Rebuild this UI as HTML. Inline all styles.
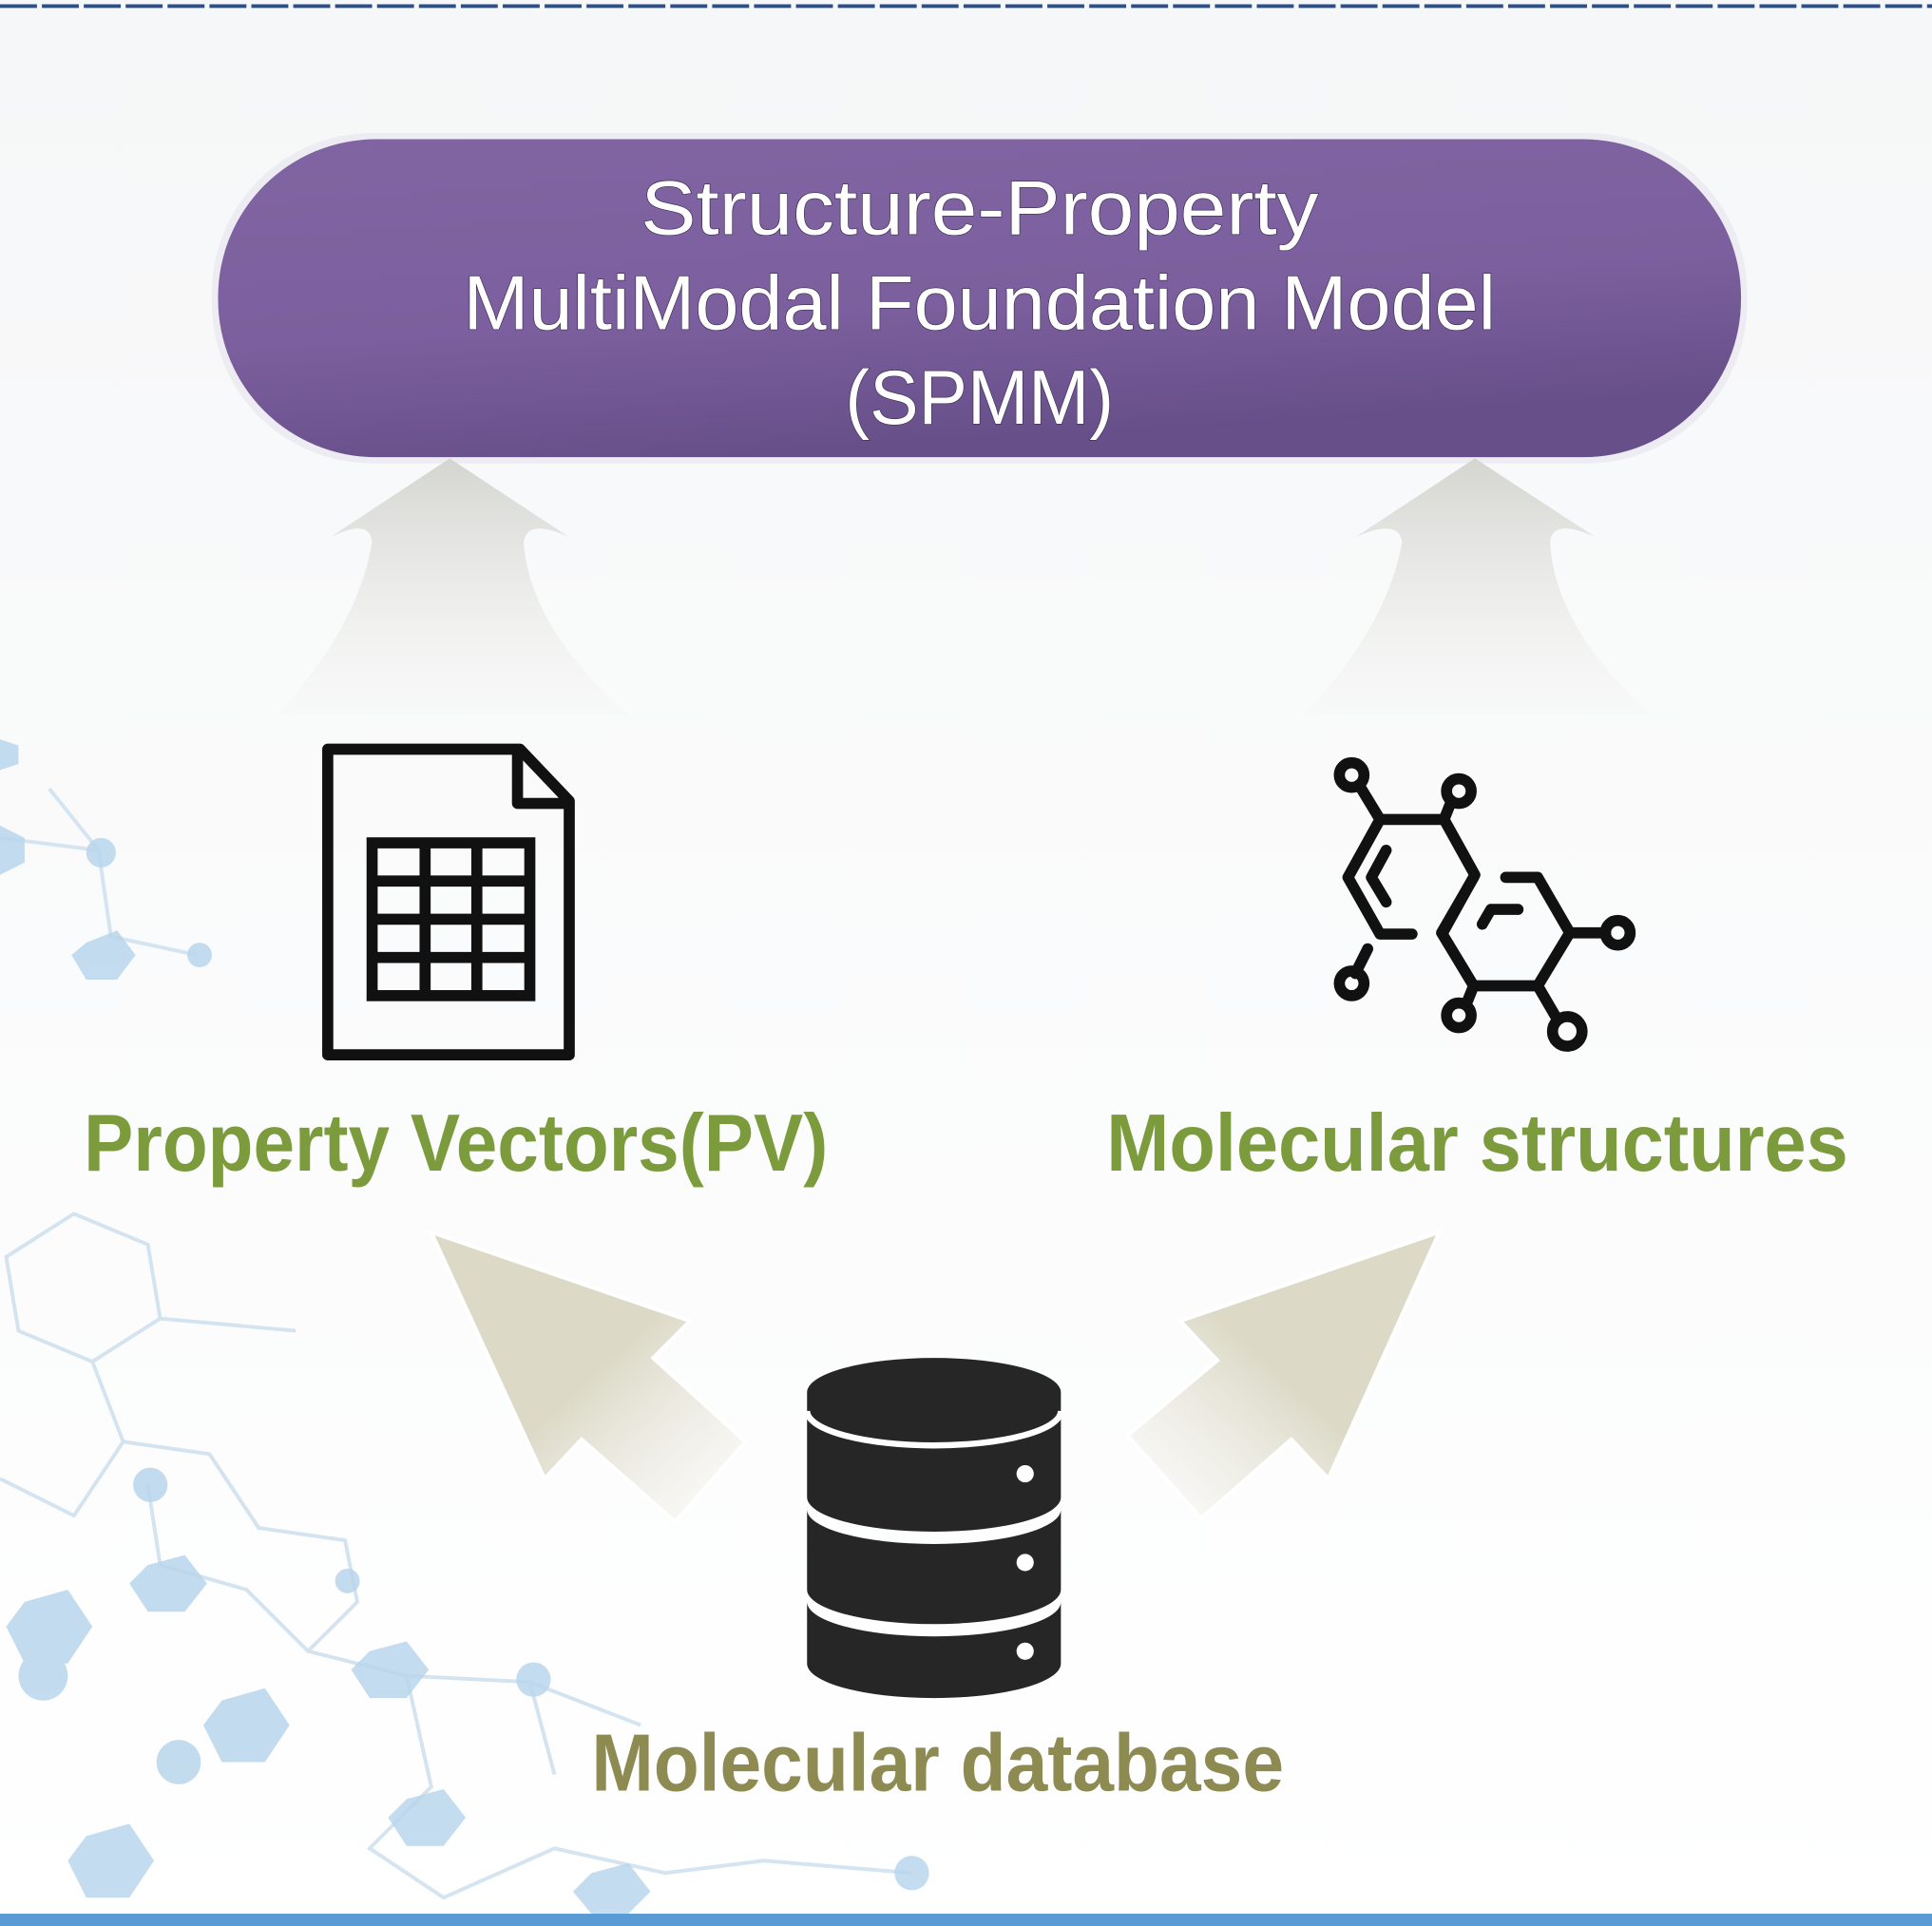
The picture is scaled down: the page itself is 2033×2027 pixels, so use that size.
<!DOCTYPE html>
<html><head><meta charset="utf-8"><style>
html,body{margin:0;padding:0;background:#fff;}
svg{display:block;}
text{font-family:"Liberation Sans",sans-serif;}
</style></head><body>
<svg width="2033" height="2027" viewBox="0 0 1568 1563" preserveAspectRatio="none" xmlns="http://www.w3.org/2000/svg">
<defs>
<linearGradient id="bg" x1="0" y1="0" x2="0" y2="1"><stop offset="0" stop-color="#f6f7f8"/><stop offset="1" stop-color="#ffffff"/></linearGradient>
<linearGradient id="pill" x1="0" y1="0" x2="0.3" y2="1"><stop offset="0" stop-color="#8165a3"/><stop offset="0.6" stop-color="#7c5f9e"/><stop offset="1" stop-color="#67508a"/></linearGradient>
<linearGradient id="up" x1="0" y1="0" x2="0" y2="1"><stop offset="0" stop-color="#d4d5d0"/><stop offset="1" stop-color="#f4f4f2" stop-opacity="0.3"/></linearGradient>
<linearGradient id="la" x1="0" y1="0" x2="1" y2="1"><stop offset="0.5" stop-color="#dcd9c6"/><stop offset="1" stop-color="#f2f2ee" stop-opacity="0.2"/></linearGradient>
<linearGradient id="ra" x1="1" y1="0" x2="0" y2="1"><stop offset="0.5" stop-color="#dcd9c6"/><stop offset="1" stop-color="#f2f2ee" stop-opacity="0.2"/></linearGradient>
</defs>
<rect width="1568" height="1563" fill="url(#bg)"/>
<line x1="0" y1="5" x2="1568" y2="5" stroke="#2b4f8a" stroke-width="3" stroke-dasharray="30 4"/>
<rect x="0" y="1553" width="1568" height="10" fill="#5b9bd5"/>
<!-- background molecules -->
<g stroke="#cfe1ef" stroke-width="3" fill="none" opacity="0.9">
<path d="M5 1020 L60 985 L120 1010 L130 1070 L75 1105 L15 1080 Z"/>
<path d="M130 1070 L240 1080 M75 1105 L100 1170 L60 1230 L0 1200"/>
<path d="M100 1170 L170 1180 L210 1240 L280 1250 L290 1300 L250 1340"/>
<path d="M0 680 L80 690 L90 760 L160 775 M80 690 L40 640"/>
<path d="M120 1205 L130 1270 L200 1290 L250 1340 L330 1360 L430 1365 L450 1440"/>
<path d="M430 1365 L520 1400 M330 1360 L350 1450 L300 1500 L360 1540 L450 1500 L540 1520 L620 1510 L740 1520"/>
</g>
<g fill="#b9d6ec" opacity="0.85">
<polygon points="20,1300 55,1290 75,1320 55,1350 20,1350 5,1320"/>
<polygon points="180,1380 215,1370 235,1400 215,1430 180,1430 165,1400"/>
<polygon points="70,1490 105,1480 125,1510 105,1540 70,1540 55,1510"/>
<polygon points="120,1270 150,1262 168,1285 150,1308 120,1308 105,1285"/>
<polygon points="300,1340 330,1332 348,1355 330,1378 300,1378 285,1355"/>
<polygon points="330,1460 360,1452 378,1475 360,1498 330,1498 315,1475"/>
<polygon points="480,1520 510,1512 528,1535 510,1553 480,1553 465,1535"/>
<polygon points="0,600 15,605 15,620 0,625"/>
<polygon points="70,765 95,755 110,775 95,795 70,795 58,775"/>
<polygon points="0,670 20,680 20,700 0,710"/>
<circle cx="82" cy="692" r="12"/><circle cx="162" cy="775" r="10"/><circle cx="122" cy="1205" r="14"/>
<circle cx="282" cy="1283" r="10"/><circle cx="433" cy="1363" r="14"/><circle cx="740" cy="1520" r="14"/>
<circle cx="35" cy="1360" r="20"/><circle cx="145" cy="1430" r="18"/>
</g>
<!-- purple pill -->
<rect x="172" y="108" width="1246" height="268" rx="130" fill="#ececf2"/>
<rect x="177" y="113" width="1236" height="258" rx="128" fill="url(#pill)"/>
<g fill="#fff" font-size="62" text-anchor="middle" style="paint-order:stroke" stroke="#3a2a50" stroke-width="1">
<text x="795" y="190" textLength="550" lengthAdjust="spacingAndGlyphs">Structure-Property</text>
<text x="795" y="267" textLength="838" lengthAdjust="spacingAndGlyphs">MultiModal Foundation Model</text>
<text x="795" y="344" textLength="218" lengthAdjust="spacingAndGlyphs">(SPMM)</text>
</g>
<!-- up arrows -->
<path d="M365 372 L462 436 Q428 420 425 440 Q430 510 510 580 L225 580 Q290 510 302 440 Q300 420 268 436 Z" fill="url(#up)"/>
<path d="M1197 372 L1295 436 Q1260 420 1258 440 Q1262 510 1340 580 L1058 580 Q1125 510 1138 440 Q1135 420 1100 436 Z" fill="url(#up)"/>
<!-- document icon -->
<path d="M266 608 L422 608 L462 650 L462 856 L266 856 Z" fill="none" stroke="#111" stroke-width="9" stroke-linejoin="round"/>
<path d="M420 608 L420 652 L462 652" fill="none" stroke="#111" stroke-width="9" stroke-linejoin="round"/>
<g stroke="#111" stroke-width="9" fill="none">
<rect x="302" y="684" width="128" height="124"/>
<line x1="345" y1="684" x2="345" y2="808"/><line x1="387" y1="684" x2="387" y2="808"/>
<line x1="302" y1="715" x2="430" y2="715"/><line x1="302" y1="746" x2="430" y2="746"/><line x1="302" y1="777" x2="430" y2="777"/>
</g>
<!-- molecule icon -->
<g stroke="#111" stroke-width="9" fill="none" stroke-linecap="round" stroke-linejoin="round">
<path d="M1120 665 L1172 665 L1197 710 L1172 755 M1146 758 L1120 758 L1094 712 L1120 665"/>
<path d="M1125 690 L1113 712 L1125 732"/>
<path d="M1222 712 L1248 712 L1274 757 L1248 800 L1196 800 L1170 757 L1196 712"/>
<path d="M1203 750 L1210 738 L1232 738"/>
<path d="M1120 665 L1103 637 M1172 665 L1178 650 M1110 770 L1100 790 M1274 757 L1303 757 M1196 800 L1190 815 M1248 800 L1262 824"/>
<circle cx="1097" cy="629" r="10"/><circle cx="1184" cy="642" r="10"/><circle cx="1097" cy="798" r="10"/>
<circle cx="1313" cy="757" r="10"/><circle cx="1184" cy="824" r="10"/><circle cx="1272" cy="837" r="12"/>
</g>
<!-- labels -->
<g font-weight="bold" font-size="66" fill="#7c9b3c">
<text x="68" y="950" textLength="604" lengthAdjust="spacingAndGlyphs">Property Vectors(PV)</text>
<text x="898" y="950" textLength="602" lengthAdjust="spacingAndGlyphs">Molecular structures</text>
</g>
<text x="480" y="1453" font-weight="bold" font-size="66" fill="#8d8a52" textLength="562" lengthAdjust="spacingAndGlyphs">Molecular database</text>
<!-- beige arrows -->
<path d="M350 1000 L560 1072 L530 1102 L605 1170 L548 1235 L472 1168 L442 1200 Z" fill="url(#la)" stroke="#fff" stroke-width="3"/>
<path d="M1168 1000 L958 1072 L988 1104 L915 1165 L975 1232 L1048 1168 L1078 1200 Z" fill="url(#ra)" stroke="#fff" stroke-width="3"/>
<!-- database -->
<g fill="#262626">
<path d="M655 1130 A103 28 0 0 1 861 1130 L861 1215 A103 28 0 0 1 655 1215 Z"/>
<path d="M655 1225 A103 28 0 0 0 861 1225 L861 1290 A103 28 0 0 1 655 1290 Z"/>
<path d="M655 1300 A103 28 0 0 0 861 1300 L861 1350 A103 28 0 0 1 655 1350 Z"/>
</g>
<path d="M655 1145 A103 28 0 0 0 861 1145" stroke="#fff" stroke-width="5" fill="none"/>
<g fill="#fff"><circle cx="832" cy="1196" r="7"/><circle cx="832" cy="1268" r="7"/><circle cx="832" cy="1340" r="7"/></g>
</svg>
</body></html>
